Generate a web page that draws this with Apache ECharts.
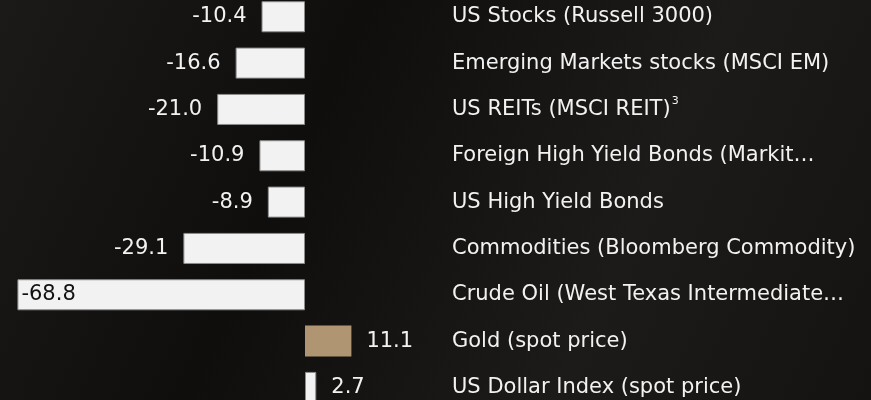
<!DOCTYPE html>
<html>
<head>
<meta charset="utf-8">
<script src="https://cdn.jsdelivr.net/npm/echarts@6/dist/echarts.min.js"></script>
<style>
  html, body { margin: 0; padding: 0; background: #121110; }
  #chart { width: 871px; height: 400px; }
</style>
</head>
<body>
<div id="chart"></div>
<script>
// Asset class returns (%), top to bottom
const categories = [
  'US Stocks (Russell 3000)',
  'Emerging Markets stocks (MSCI EM)',
  'US REITs (MSCI REIT)',
  'Foreign High Yield Bonds (Markit…',
  'US High Yield Bonds',
  'Commodities (Bloomberg Commodity)',
  'Crude Oil (West Texas Intermediate…',
  'Gold (spot price)',
  'US Dollar Index (spot price)'
];
const footnotes = ['', '', '3', '', '', '', '', '', ''];
const returns = [-10.4, -16.6, -21.0, -10.9, -8.9, -29.1, -68.8, 11.1, 2.7];

const FONT = 'DejaVu Sans';
const LIGHT = '#f2f2f2';
const GOLD = '#b09573';

const chart = echarts.init(document.getElementById('chart'));

const barData = returns.map((v, i) => {
  const isGold = categories[i].startsWith('Gold');
  const longBar = Math.abs(v) > 50;
  return {
    value: v,
    itemStyle: isGold
      ? { color: GOLD, borderWidth: 0 }
      : { color: LIGHT, borderColor: '#8c8c8c', borderWidth: 1 },
    label: longBar
      ? { position: 'insideLeft', distance: 4, color: '#111' }
      : { position: v < 0 ? 'left' : 'right', distance: 15, color: LIGHT }
  };
});

chart.setOption({
  backgroundColor: {
    type: 'linear', x: 0, y: 0, x2: 1, y2: 1,
    colorStops: [
      { offset: 0, color: '#1c1a19' },
      { offset: 0.35, color: '#0f0e0d' },
      { offset: 0.7, color: '#1d1b19' },
      { offset: 1, color: '#141312' }
    ]
  },
  animation: false,
  grid: {
    left: 12.4, width: 418, top: -6.4, height: 417,
    containLabel: false, outerBoundsMode: 'none'
  },
  xAxis: {
    type: 'value', min: -70, max: 30, show: false
  },
  yAxis: {
    type: 'category',
    data: categories,
    inverse: true,
    position: 'right',
    axisLine: { show: false },
    axisTick: { show: false },
    splitLine: { show: false },
    axisLabel: {
      align: 'left',
      margin: 21.6,
      color: LIGHT,
      fontFamily: FONT,
      fontSize: 21,
      formatter: (name, idx) => footnotes[idx]
        ? '{t|' + name + '}{sup|' + footnotes[idx] + '}'
        : name,
      rich: {
        t: { color: LIGHT, fontFamily: FONT, fontSize: 21 },
        sup: { color: LIGHT, fontFamily: FONT, fontSize: 11, padding: [0, 0, 16, 1] }
      }
    }
  },
  series: [{
    type: 'bar',
    data: barData,
    barCategoryGap: '33%',
    label: {
      show: true,
      fontFamily: FONT,
      fontSize: 21,
      formatter: p => p.value.toFixed(1)
    }
  }]
});
</script>
</body>
</html>
